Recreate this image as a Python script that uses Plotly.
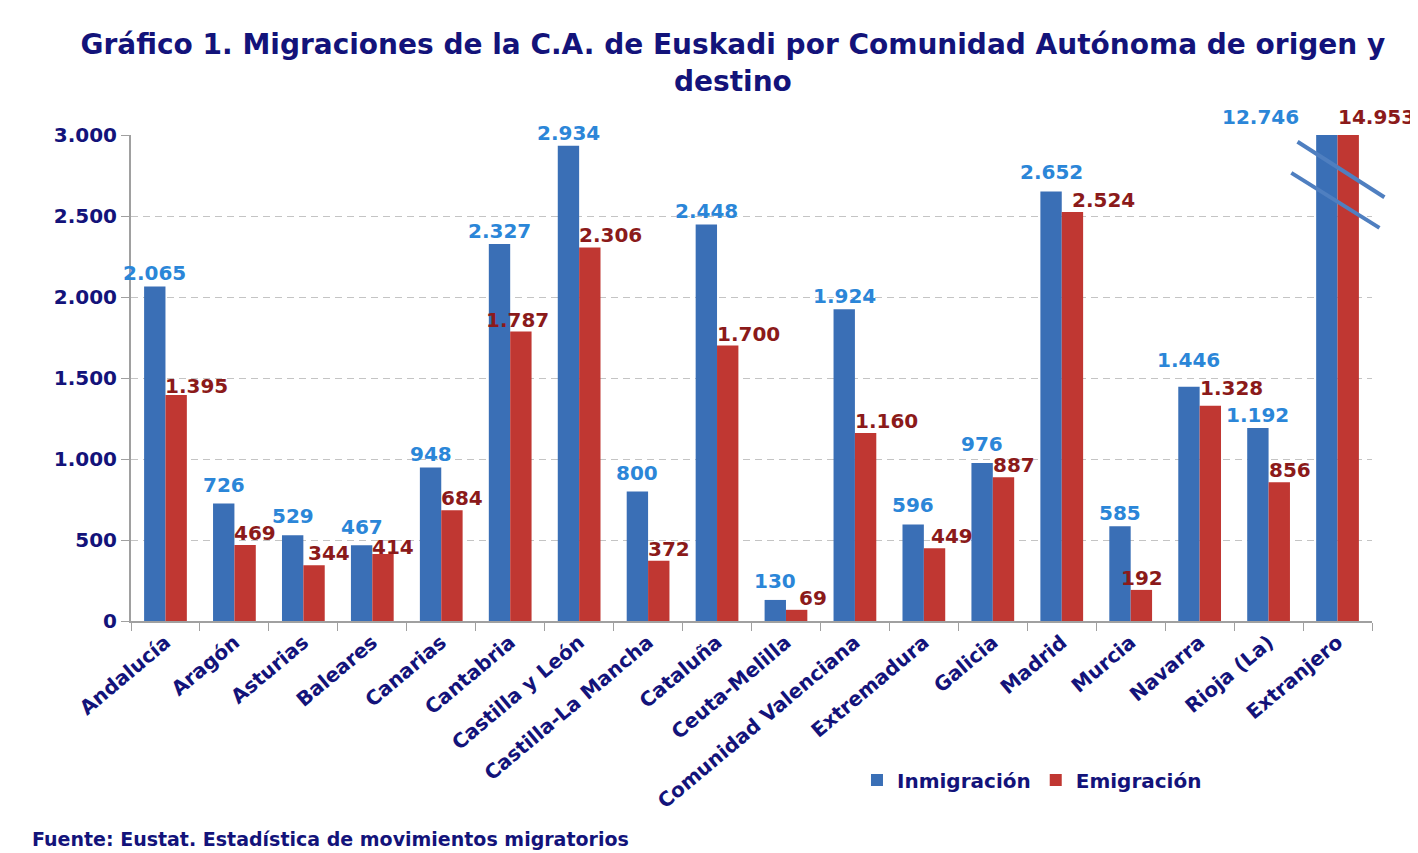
import plotly.graph_objects as go

# ---- data ----
categories = ["Andalucía", "Aragón", "Asturias", "Baleares", "Canarias", "Cantabria",
              "Castilla y León", "Castilla-La Mancha", "Cataluña", "Ceuta-Melilla",
              "Comunidad Valenciana", "Extremadura", "Galicia", "Madrid", "Murcia",
              "Navarra", "Rioja (La)", "Extranjero"]
inmigracion = [2065, 726, 529, 467, 948, 2327, 2934, 800, 2448, 130, 1924, 596, 976,
               2652, 585, 1446, 1192, 12746]
emigracion = [1395, 469, 344, 414, 684, 1787, 2306, 372, 1700, 69, 1160, 449, 887,
              2524, 192, 1328, 856, 14953]
y_ticks = [0, 500, 1000, 1500, 2000, 2500, 3000]
y_max = 3000

# ---- style ----
NAVY = "#13137a"
BLUE_BAR = "#3a6fb6"
RED_BAR = "#c03732"
BLUE_LBL = "#2b86d8"
RED_LBL = "#8b1a1a"
FONT = "DejaVu Sans"
HALF_BAR = 10.7  # px, half of one bar width

# label nudges (pixels) for readability, as in the original
blue_dx = {"Extranjero": -66}
blue_dy = {"Navarra": 27, "Aragón": 18, "Asturias": 19, "Baleares": 18,
           "Castilla-La Mancha": 18, "Ceuta-Melilla": 19, "Extremadura": 19,
           "Galicia": 19, "Madrid": 19, "Extranjero": 18}
red_dx = {"Cantabria": -24, "Murcia": -10, "Madrid": 10, "Extremadura": 7,
          "Asturias": 5, "Ceuta-Melilla": 13}
red_dy = {"Navarra": 18, "Baleares": 7, "Andalucía": 9, "Extranjero": 18}


def fmt(v):
    return f"{v:,}".replace(",", ".")


fig = go.Figure()
fig.add_trace(go.Bar(x=categories, y=inmigracion, name="Inmigración",
                     marker=dict(color=BLUE_BAR, line=dict(width=0))))
fig.add_trace(go.Bar(x=categories, y=emigracion, name="Emigración",
                     marker=dict(color=RED_BAR, line=dict(width=0))))

annotations = []
for c, v in zip(categories, inmigracion):
    annotations.append(dict(
        x=c, y=min(v, y_max), xref="x", yref="y", text=f"<b>{fmt(v)}</b>",
        showarrow=False, xanchor="center", yanchor="middle",
        xshift=-HALF_BAR + blue_dx.get(c, 0), yshift=blue_dy.get(c, 13),
        font=dict(family=FONT, size=20, color=BLUE_LBL)))
for c, v in zip(categories, emigracion):
    annotations.append(dict(
        x=c, y=min(v, y_max), xref="x", yref="y", text=f"<b>{fmt(v)}</b>",
        showarrow=False, xanchor="left", yanchor="middle",
        xshift=-2 + red_dx.get(c, 0), yshift=red_dy.get(c, 12),
        font=dict(family=FONT, size=20, color=RED_LBL)))

annotations.append(dict(
    x=-0.0814, y=-0.449, xref="paper", yref="paper", xanchor="left", yanchor="middle",
    text="<b>Fuente: Eustat. Estadística de movimientos migratorios</b>", showarrow=False,
    font=dict(family=FONT, size=19, color=NAVY)))

# axis-break marks on the off-scale bars
shapes = [
    dict(type="line", xref="paper", yref="paper", x0=0.940, y0=0.986, x1=1.010, y1=0.872,
         line=dict(color="#4f7fc0", width=4)),
    dict(type="line", xref="paper", yref="paper", x0=0.935, y0=0.922, x1=1.006, y1=0.809,
         line=dict(color="#4f7fc0", width=4)),
]

fig.update_layout(
    width=1410, height=845,
    margin=dict(l=123, r=46, t=127, b=232),
    paper_bgcolor="white", plot_bgcolor="white",
    separators=",.",
    barmode="group", bargap=0.38, bargroupgap=0,
    title=dict(text="<b>Gráfico 1. Migraciones de la C.A. de Euskadi por Comunidad Autónoma de origen y<br>destino</b>",
               x=0.485, xref="paper", xanchor="center", y=0.945, yanchor="middle",
               font=dict(family=FONT, size=28, color=NAVY)),
    font=dict(family=FONT, color=NAVY),
    xaxis=dict(type="category", range=[-0.5, len(categories) - 0.5],
               tickangle=-40, tickson="boundaries", ticks="outside",
               ticklen=8, tickcolor="#a0a0a0", showline=True, linecolor="#a0a0a0",
               linewidth=2, showgrid=False, automargin=False,
               tickfont=dict(family=FONT, size=20, color=NAVY, weight="bold")),
    yaxis=dict(range=[0, y_max], tickvals=y_ticks, tickformat=",d", ticks="outside",
               ticklen=8, tickcolor="#a0a0a0", showline=True, linecolor="#a0a0a0",
               linewidth=2, showgrid=True, gridcolor="#c4c4c4", griddash="7px,5px",
               gridwidth=1, zeroline=False, automargin=False,
               tickfont=dict(family=FONT, size=20, color=NAVY, weight="bold")),
    legend=dict(orientation="h", x=0.585, y=-0.327, xanchor="left", yanchor="middle",
                font=dict(family=FONT, size=20, color=NAVY, weight="bold"),
                itemwidth=30, bgcolor="rgba(0,0,0,0)"),
    annotations=annotations,
    shapes=shapes,
)

fig.write_html("out.html")
